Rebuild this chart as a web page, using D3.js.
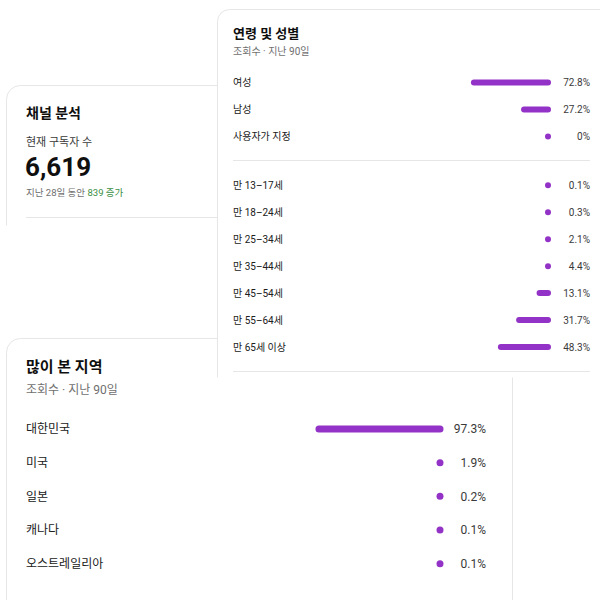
<!DOCTYPE html>
<html><head><meta charset="utf-8">
<script src="https://cdn.jsdelivr.net/npm/d3@7"></script>
<style>
html,body{margin:0;padding:0;background:#fff;}
svg{display:block;font-family:Roboto,"Noto Sans CJK KR",sans-serif;}
</style></head>
<body><svg id="c" width="600" height="600"></svg>
<script>
// ---- data ----
const channelTitle = "채널 분석";
const subscriberLabel = "현재 구독자 수";
const subscriberCount = 6619;
const subscriberGain = 839;

const genderLabels = ["여성", "남성", "사용자가 지정"];
const genderValues = [72.8, 27.2, 0];
const genderText = ["72.8%", "27.2%", "0%"];

const ageLabels = ["만 13–17세", "만 18–24세", "만 25–34세", "만 35–44세", "만 45–54세", "만 55–64세", "만 65세 이상"];
const ageValues = [0.1, 0.3, 2.1, 4.4, 13.1, 31.7, 48.3];

const regionLabels = ["대한민국", "미국", "일본", "캐나다", "오스트레일리아"];
const regionValues = [97.3, 1.9, 0.2, 0.1, 0.1];

const PURPLE = "#9232c6";
const BORDER = "#e6e6e6";
const svg = d3.select("#c");

function card(x, y, w, h, r) {
  // card with rounded top-left corner only (cropped screenshots)
  const p = d3.path();
  p.moveTo(x, y + h);
  p.lineTo(x, y + r);
  p.arcTo(x, y, x + r, y, r);
  p.lineTo(x + w, y);
  p.lineTo(x + w, y + h);
  p.closePath();
  svg.append("path").attr("d", p.toString()).attr("fill", "#fff").attr("stroke", "none");
  const b = d3.path();
  b.moveTo(x, y + h);
  b.lineTo(x, y + r);
  b.arcTo(x, y, x + r, y, r);
  b.lineTo(x + w, y);
  svg.append("path").attr("d", b.toString()).attr("fill", "none").attr("stroke", BORDER).attr("stroke-width", 1);
}
function hline(x1, x2, y) {
  svg.append("line").attr("x1", x1).attr("x2", x2).attr("y1", y).attr("y2", y)
    .attr("stroke", BORDER).attr("stroke-width", 1);
}

function barRows(g, labels, values, texts, opt) {
  const y = d3.scalePoint().domain(labels).range(opt.yRange);
  const x = d3.scaleLinear().domain([0, 100]).range([0, opt.full]);
  const rows = g.selectAll("g.row").data(labels.map((l, i) => ({l, v: values[i], t: texts[i]})))
    .join("g").attr("class", "row").attr("transform", d => `translate(0,${y(d.l)})`);
  rows.append("text").attr("x", opt.labelX).attr("dy", "0.35em")
    .attr("font-size", opt.fs).attr("fill", "#202020").text(d => d.l);
  rows.append("rect")
    .attr("x", d => opt.barEnd - Math.max(x(d.v), opt.h))
    .attr("width", d => Math.max(x(d.v), opt.h))
    .attr("y", -opt.h / 2).attr("height", opt.h).attr("rx", opt.h / 2)
    .attr("fill", PURPLE);
  rows.append("text").attr("x", opt.pctX).attr("dy", "0.35em").attr("text-anchor", "end")
    .attr("font-size", opt.fs).attr("fill", "#3a3a3a").text(d => d.t);
}

// ---- card 3 : 많이 본 지역 (drawn first, partially covered) ----
card(6.5, 338.5, 520, 300, 14);
svg.append("line").attr("x1", 512.5).attr("x2", 512.5).attr("y1", 377).attr("y2", 600)
  .attr("stroke", BORDER);
svg.append("text").attr("x", 26).attr("y", 372).attr("font-size", 15).attr("font-weight", 700)
  .attr("fill", "#0f0f0f").text("많이 본 지역");
svg.append("text").attr("x", 26).attr("y", 394).attr("font-size", 12)
  .attr("fill", "#6f6f6f").text("조회수 · 지난 90일");
barRows(svg.append("g"), regionLabels, regionValues, regionValues.map(v => v + "%"),
  {yRange: [429, 563.7], full: 131.6, barEnd: 443.5, h: 7, labelX: 26, pctX: 486, fs: 12});

// ---- card 1 : 채널 분석 ----
card(6.5, 85.5, 215, 140, 14);
svg.append("text").attr("x", 26).attr("y", 118).attr("font-size", 14).attr("font-weight", 700)
  .attr("fill", "#0f0f0f").text(channelTitle);
svg.append("text").attr("x", 26).attr("y", 146).attr("font-size", 11)
  .attr("fill", "#3a3a3a").text(subscriberLabel);
svg.append("text").attr("x", 25).attr("y", 176).attr("font-size", 26).attr("font-weight", 700)
  .attr("fill", "#0f0f0f").text(d3.format(",")(subscriberCount));
const gain = svg.append("text").attr("x", 26).attr("y", 196).attr("font-size", 9.5).attr("fill", "#6f6f6f");
gain.append("tspan").text("지난 28일 동안 ");
gain.append("tspan").attr("fill", "#3b8f43").text(subscriberGain + " 증가");
hline(26, 217, 217.5);

// ---- card 2 : 연령 및 성별 ----
card(217.5, 9.5, 400, 368, 12);
svg.append("text").attr("x", 233).attr("y", 38).attr("font-size", 13).attr("font-weight", 700)
  .attr("fill", "#0f0f0f").text("연령 및 성별");
svg.append("text").attr("x", 233).attr("y", 55).attr("font-size", 10)
  .attr("fill", "#6f6f6f").text("조회수 · 지난 90일");
barRows(svg.append("g"), genderLabels, genderValues, genderText,
  {yRange: [82.5, 136.5], full: 110, barEnd: 551, h: 6, labelX: 233, pctX: 590, fs: 10});
hline(233, 590, 160.5);
barRows(svg.append("g"), ageLabels, ageValues, ageValues.map(v => v + "%"),
  {yRange: [185.3, 347], full: 110, barEnd: 551, h: 6, labelX: 233, pctX: 590, fs: 10});
hline(233, 590, 371.5);
</script></body></html>
